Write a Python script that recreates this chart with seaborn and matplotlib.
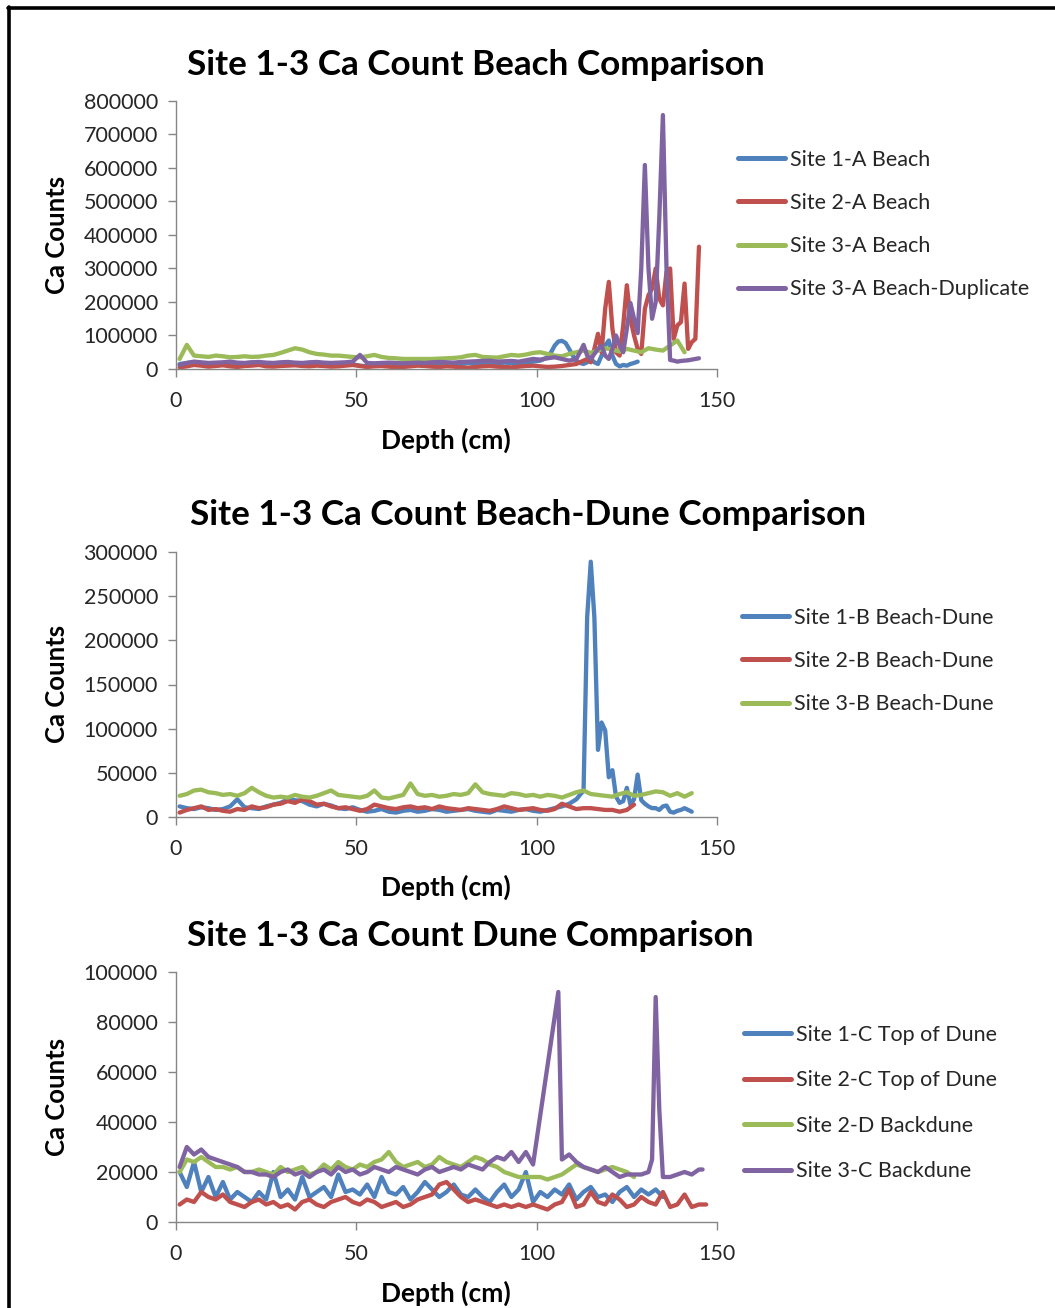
"""
Site 1-3 Ca count comparisons (beach, beach-dune, dune) - XRF core profiles.
"""

import numpy as np
import pandas as pd
import matplotlib
matplotlib.use('Agg')
import matplotlib.pyplot as plt
from matplotlib.lines import Line2D
from matplotlib.ticker import StrMethodFormatter
import seaborn as sns

sns.set_style("white")
plt.rcParams['font.family'] = ['Lato', 'DejaVu Sans']

# colours (Excel defaults)
BLUE = '#4F81BD'
RED = '#C0504D'
GREEN = '#9BBB59'
PURPLE = '#8064A2'

# ---------------- data (Ca counts in thousands) ----------------
# Beach
beach_1a_depth = list(range(1, 101, 2)) + list(range(101, 129))
beach_1a = [15, 18, 20, 17, 14, 16, 18, 15, 13, 17, 19, 16, 14, 15, 17, 18, 16, 14, 15, 17,
            16, 13, 12, 15, 14, 10, 8, 12, 14, 13, 15, 16, 14, 12, 15, 17, 16, 14, 13, 15,
            18, 16, 15, 14, 17, 19, 18, 16, 20, 22,
            25, 30, 35, 50, 70, 82, 84, 78, 60, 40, 25, 18, 15, 20, 30, 20, 15, 40, 70, 85,
            40, 15, 8, 12, 10, 15, 18, 22]

beach_2a_depth = list(range(1, 111, 2)) + list(range(111, 146))
beach_2a = [5, 8, 12, 10, 7, 9, 11, 8, 6, 9, 10, 12, 8, 7, 9, 10, 11, 9, 8, 10,
            9, 7, 8, 10, 12, 9, 6, 8, 9, 7, 5, 6, 8, 10, 9, 7, 6, 8, 7, 5,
            4, 6, 8, 9, 7, 6, 5, 7, 9, 10, 8, 6, 7, 9, 12,
            15, 20, 25, 30, 20, 60, 105, 50, 180, 260, 120, 50, 40, 130, 250, 150, 100, 60,
            45, 180, 220, 240, 300, 210, 190, 290, 300, 90, 130, 140, 255, 60, 80, 90, 365]

beach_3a_depth = list(range(1, 142, 2))
beach_3a = [30, 72, 40, 38, 36, 40, 38, 35, 36, 38, 36, 37, 40, 42, 48, 55, 62, 58, 50, 45,
            43, 40, 40, 38, 36, 35, 38, 42, 36, 33, 32, 30, 30, 30, 30, 30, 31, 32, 33, 35,
            40, 42, 36, 35, 34, 38, 42, 40, 43, 48, 50, 45, 40, 38, 45, 50, 55, 48, 55, 62,
            58, 52, 60, 55, 50, 62, 58, 55, 70, 85, 50]

beach_3a_dup_depth = list(range(1, 111, 2)) + list(range(111, 146))
beach_3a_dup = [12, 18, 22, 20, 18, 19, 20, 22, 19, 18, 20, 21, 19, 18, 20, 21, 19, 18, 20, 21,
                19, 18, 19, 20, 22, 42, 18, 17, 18, 19, 18, 17, 18, 19, 18, 20, 21, 20, 19, 21,
                22, 23, 24, 25, 22, 23, 24, 22, 26, 30, 28, 32, 35, 30, 25,
                30, 50, 72, 40, 30, 45, 60, 70, 40, 30, 60, 100, 70, 50, 120, 197, 150, 107,
                300, 609, 300, 150, 200, 450, 758, 300, 27, 25, 22, 24, 25, 26, 28, 30, 32]

# Beach-Dune
bd_1b_depth = list(range(1, 111, 2)) + list(range(111, 144))
bd_1b = [12, 10, 9, 11, 10, 8, 9, 12, 20, 11, 10, 9, 12, 14, 16, 20, 19, 18, 14, 12,
         15, 13, 10, 9, 11, 8, 6, 7, 9, 6, 5, 7, 8, 6, 7, 9, 8, 6, 7, 8,
         9, 7, 6, 5, 8, 7, 6, 8, 9, 7, 6, 8, 10, 12, 15,
         20, 25, 30, 226, 289, 226, 76, 107, 98, 45, 53, 23, 16, 18, 33, 14, 20, 48,
         19, 15, 12, 10, 10, 8, 12, 13, 6, 5, 7, 8, 10, 8, 6]

bd_2b_depth = list(range(1, 128, 2))
bd_2b = [5, 8, 10, 12, 8, 9, 7, 6, 9, 8, 12, 10, 11, 14, 15, 18, 16, 20, 18, 14,
         15, 12, 10, 11, 9, 7, 9, 14, 12, 10, 9, 11, 12, 10, 11, 9, 12, 10, 9, 8,
         10, 9, 8, 7, 9, 12, 10, 8, 9, 10, 8, 7, 9, 15, 12, 9, 10, 10, 9, 8,
         8, 6, 8, 14]

bd_3b_depth = list(range(1, 144, 2))
bd_3b = [24, 26, 30, 31, 28, 27, 25, 26, 24, 27, 33, 28, 24, 22, 23, 22, 25, 23, 22, 24,
         27, 30, 25, 24, 23, 22, 24, 30, 22, 21, 23, 25, 38, 26, 24, 25, 23, 24, 26, 25,
         27, 37, 28, 26, 25, 24, 27, 26, 24, 25, 23, 25, 24, 22, 25, 28, 30, 26, 25, 24,
         23, 26, 28, 24, 25, 27, 29, 28, 24, 27, 23, 27]

# Dune
dune_1c_depth = list(range(1, 137, 2))
dune_1c = [20, 14, 24, 12, 18, 10, 16, 9, 12, 10, 8, 12, 9, 20, 10, 13, 9, 18, 10, 12,
           14, 10, 19, 12, 13, 11, 15, 10, 18, 12, 11, 14, 9, 12, 16, 13, 10, 12, 15, 11,
           10, 13, 10, 8, 12, 15, 10, 13, 20, 8, 12, 10, 13, 11, 15, 9, 12, 14, 10, 11,
           8, 12, 14, 10, 13, 11, 13, 10]

dune_2c_depth = list(range(1, 148, 2))
dune_2c = [7, 9, 8, 12, 10, 9, 11, 8, 7, 6, 8, 9, 7, 8, 6, 7, 5, 8, 9, 7,
           6, 8, 9, 10, 8, 7, 9, 8, 6, 7, 8, 6, 7, 9, 10, 11, 15, 16, 13, 10,
           8, 9, 8, 7, 6, 7, 6, 7, 6, 7, 6, 5, 7, 8, 13, 6, 7, 12, 8, 7,
           11, 9, 6, 7, 10, 8, 7, 12, 6, 7, 11, 6, 7, 7]

dune_2d_depth = list(range(1, 128, 2))
dune_2d = [20, 25, 24, 26, 24, 22, 22, 21, 22, 20, 20, 21, 20, 19, 22, 20, 21, 22, 19, 20,
           23, 21, 24, 22, 21, 23, 22, 24, 25, 28, 24, 22, 23, 24, 22, 23, 26, 24, 23, 22,
           24, 26, 25, 23, 22, 20, 19, 18, 18, 18, 18, 17, 18, 19, 21, 23, 22, 21, 20, 21,
           22, 21, 20, 18]

dune_3c_depth = (list(range(1, 100, 2)) + [106] + list(range(107, 132, 2))
                 + [132, 133, 134, 135, 137, 139, 141, 143, 145, 146])
dune_3c = [22, 30, 27, 29, 26, 25, 24, 23, 22, 20, 20, 19, 19, 18, 20, 21, 19, 20, 18, 20,
           21, 19, 22, 20, 21, 19, 20, 22, 21, 20, 22, 21, 20, 19, 21, 22, 20, 21, 22, 21,
           23, 22, 21, 24, 26, 25, 28, 24, 28, 23,
           92, 25, 27, 24, 22, 21, 20, 22, 20, 18, 19, 19, 19, 20,
           25, 90, 45, 18, 18, 19, 20, 19, 21, 21]

panels = [
    {
        'title': 'Site 1-3 Ca Count Beach Comparison',
        'series': [('Site 1-A Beach', beach_1a_depth, beach_1a, BLUE),
                   ('Site 2-A Beach', beach_2a_depth, beach_2a, RED),
                   ('Site 3-A Beach', beach_3a_depth, beach_3a, GREEN),
                   ('Site 3-A Beach-Duplicate', beach_3a_dup_depth, beach_3a_dup, PURPLE)],
        'ymax': 800000, 'ystep': 100000,
    },
    {
        'title': 'Site 1-3 Ca Count Beach-Dune Comparison',
        'series': [('Site 1-B Beach-Dune', bd_1b_depth, bd_1b, BLUE),
                   ('Site 2-B Beach-Dune', bd_2b_depth, bd_2b, RED),
                   ('Site 3-B Beach-Dune', bd_3b_depth, bd_3b, GREEN)],
        'ymax': 300000, 'ystep': 50000,
    },
    {
        'title': 'Site 1-3 Ca Count Dune Comparison',
        'series': [('Site 1-C Top of Dune', dune_1c_depth, dune_1c, BLUE),
                   ('Site 2-C Top of Dune', dune_2c_depth, dune_2c, RED),
                   ('Site 2-D Backdune', dune_2d_depth, dune_2d, GREEN),
                   ('Site 3-C Backdune', dune_3c_depth, dune_3c, PURPLE)],
        'ymax': 100000, 'ystep': 20000,
    },
]

# ---------------- layout (pixels) ----------------
W, H = 1055, 1308
axes_px = [(176, 101, 717, 369), (176, 552, 717, 817), (176, 972, 717, 1222)]
title_px = [(476, 65), (528, 515), (470, 936)]
ylabel_py = [235, 684, 1097]
xlabel_py = [440, 887, 1293]
legend_px = [(738, 150), (742, 608), (744, 1025)]
legend_gap = [1.07, 1.07, 1.18]

fig = plt.figure(figsize=(W / 100, H / 100), dpi=100)
fig.patch.set_facecolor('white')

AX_COLOR = '#868686'
TXT_COLOR = '#262626'

for i, panel in enumerate(panels):
    l, t, r, b = axes_px[i]
    ax = fig.add_axes([l / W, 1 - b / H, (r - l) / W, (b - t) / H])

    for name, depth, vals, col in panel['series']:
        df = pd.DataFrame({'Depth': depth, 'Ca': np.array(vals) * 1000.0})
        sns.lineplot(data=df, x='Depth', y='Ca', ax=ax, color=col, lw=3.1,
                     sort=False, label=name, solid_joinstyle='round')

    ax.set_xlim(0, 150)
    ax.set_ylim(0, panel['ymax'])
    ax.set_xticks([0, 50, 100, 150])
    ax.set_yticks(np.arange(0, panel['ymax'] + 1, panel['ystep']))
    ax.yaxis.set_major_formatter(StrMethodFormatter('{x:.0f}'))
    ax.set_xlabel('')
    ax.set_ylabel('')
    for side in ['top', 'right']:
        ax.spines[side].set_visible(False)
    for side in ['left', 'bottom']:
        ax.spines[side].set_color(AX_COLOR)
        ax.spines[side].set_linewidth(1.0)
    ax.tick_params(axis='both', direction='out', length=6, width=1.0, color=AX_COLOR,
                   labelsize=15.5, labelcolor=TXT_COLOR, left=True, bottom=True)
    ax.tick_params(axis='y', pad=7)
    ax.tick_params(axis='x', pad=10)

    lx, ly = legend_px[i]
    ax.legend(loc='upper left', bbox_to_anchor=(lx / W, 1 - ly / H),
              bbox_transform=fig.transFigure, frameon=False, fontsize=15.5,
              handlelength=2.2, handletextpad=0.2, labelspacing=legend_gap[i],
              borderaxespad=0, borderpad=0, labelcolor=TXT_COLOR)
    for line in ax.get_legend().get_lines():
        line.set_linewidth(3.6)

    tx, ty = title_px[i]
    fig.text(tx / W, 1 - ty / H, panel['title'], ha='center', va='center',
             fontsize=25.3, fontweight='bold', color='black')
    fig.text(57 / W, 1 - ylabel_py[i] / H, 'Ca Counts', ha='center', va='center',
             rotation=90, fontsize=18.5, fontweight='bold', color='black')
    fig.text(446 / W, 1 - xlabel_py[i] / H, 'Depth (cm)', ha='center', va='center',
             fontsize=19, fontweight='bold', color='black')

# outer frame (top and left edges visible)
fig.add_artist(Line2D([8 / W, 1.0], [1 - 8 / H, 1 - 8 / H], color='black', lw=2.6,
                      transform=fig.transFigure))
fig.add_artist(Line2D([8.5 / W, 8.5 / W], [0.0, 1 - 7 / H], color='black', lw=2.6,
                      transform=fig.transFigure))

plt.savefig('out.png', dpi=100, facecolor='white')
plt.close()
